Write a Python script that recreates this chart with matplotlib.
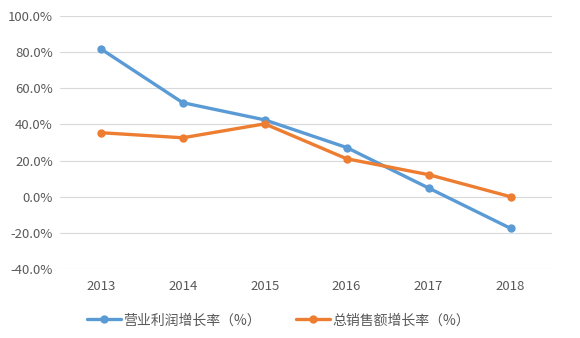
import matplotlib.pyplot as plt
from matplotlib.ticker import FuncFormatter

years = ['2013', '2014', '2015', '2016', '2017', '2018']
profit_growth = [81.8, 52.0, 42.5, 27.2, 4.8, -17.5]
sales_growth = [35.4, 32.6, 40.3, 21.0, 12.2, 0.0]

plt.rcParams['font.family'] = ['Noto Sans CJK SC', 'DejaVu Sans']

fig = plt.figure(figsize=(5.8, 3.38), dpi=100)
ax = fig.add_axes([0.103, 0.204, 0.848, 0.749])

x = range(len(years))
ax.plot(x, profit_growth, color='#5B9BD5', lw=2.4, marker='o', ms=5,
        label='营业利润增长率（%）', solid_capstyle='round')
ax.plot(x, sales_growth, color='#ED7D31', lw=2.4, marker='o', ms=5,
        label='总销售额增长率（%）', solid_capstyle='round')

ax.set_xlim(-0.5, 5.5)
ax.set_ylim(-40, 100)
ax.set_yticks(range(-40, 101, 20))
ax.yaxis.set_major_formatter(FuncFormatter(lambda v, p: f'{v:.1f}%'))
ax.set_xticks(list(x))
ax.set_xticklabels(years)
ax.grid(axis='y', color='#D9D9D9', lw=0.8)
ax.set_axisbelow(True)
for s in ax.spines.values():
    s.set_visible(False)
ax.tick_params(length=0, labelsize=9.5, colors='#595959', pad=8)
ax.tick_params(axis='y', pad=5)

leg = fig.legend(loc='lower center', bbox_to_anchor=(0.48, -0.005), ncol=2,
                 frameon=False, fontsize=10, handlelength=2.4,
                 handletextpad=0.15, columnspacing=2.6)
for t in leg.get_texts():
    t.set_color('#595959')

fig.savefig('out.png', dpi=100)
